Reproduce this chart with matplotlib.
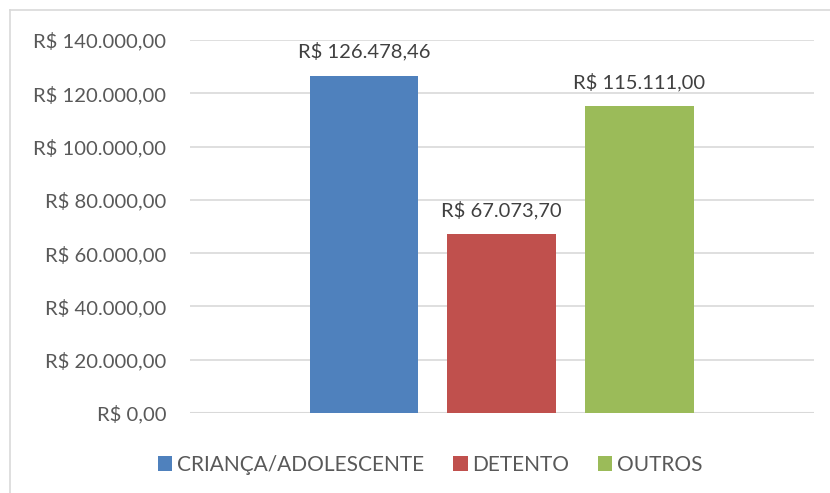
import matplotlib
matplotlib.use("Agg")
import matplotlib.pyplot as plt
from matplotlib.lines import Line2D
from matplotlib.patches import Patch

categories = ["CRIANÇA/ADOLESCENTE", "DETENTO", "OUTROS"]
values = [126478.46, 67073.70, 115111.00]
labels = ["R$ 126.478,46", "R$ 67.073,70", "R$ 115.111,00"]
yticks = [0, 20000, 40000, 60000, 80000, 100000, 120000, 140000]
ytick_labels = ["R$ 0,00", "R$ 20.000,00", "R$ 40.000,00", "R$ 60.000,00",
                "R$ 80.000,00", "R$ 100.000,00", "R$ 120.000,00", "R$ 140.000,00"]
colors = ["#4F81BD", "#C0504D", "#9BBB59"]

plt.rcParams['font.family'] = ['Lato', 'DejaVu Sans']
txt = "#595959"

fig = plt.figure(figsize=(8.30, 4.93), dpi=100)
ax = fig.add_axes([190/830, 1-413/493, (814-190)/830, (413-40)/493])

positions = [-1, 0, 1]
for p, v, c, lab, cat in zip(positions, values, colors, labels, categories):
    ax.bar(p, v, width=0.79, color=c, zorder=3, label=cat)
    ax.annotate(lab, (p, v), xytext=(0, 11), textcoords="offset points",
                ha="center", va="bottom", fontsize=14.5, color="#404040")

ax.set_xlim(-2.265, 2.27)
ax.set_ylim(0, 140000)
ax.set_yticks(yticks)
ax.set_yticklabels(ytick_labels, fontsize=14.6, color=txt)
ax.set_xticks([])
ax.tick_params(axis='y', length=0, pad=17)
ax.grid(axis='y', color="#D9D9D9", linewidth=1.2, zorder=0)
for s in ax.spines.values():
    s.set_visible(False)
ax.axhline(0, color="#D9D9D9", linewidth=1.5, zorder=2)

handles = [Patch(facecolor=c, edgecolor='none') for c in colors]
leg = fig.legend(handles, categories, loc="center", bbox_to_anchor=(430/830, 1-465/493),
                 ncol=3, frameon=False, fontsize=15, handlelength=0.7, handleheight=0.7,
                 handletextpad=0.2, columnspacing=1.4)
for t in leg.get_texts():
    t.set_color(txt)

# figure border (left and top visible)
fig.add_artist(Line2D([10/830, 10/830], [0, 1-10/493], transform=fig.transFigure, color="#D9D9D9", lw=1.2))
fig.add_artist(Line2D([10/830, 1], [1-10/493, 1-10/493], transform=fig.transFigure, color="#D9D9D9", lw=1.2))

fig.savefig("out.png", dpi=100)
